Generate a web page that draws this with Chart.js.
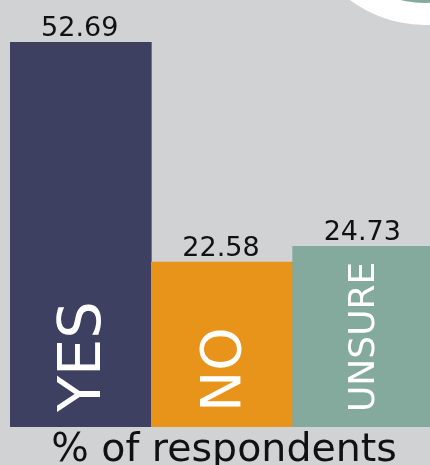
<!DOCTYPE html>
<html>
<head>
<meta charset="utf-8">
<script src="https://cdn.jsdelivr.net/npm/chart.js@4"></script>
<style>
  html, body { margin: 0; padding: 0; background: #d1d2d4; overflow: hidden; }
  #wrap { width: 434px; height: 465px; }
</style>
</head>
<body>
<div id="wrap"><canvas id="surveyChart"></canvas></div>
<script>
// survey answers
const categories = ['YES', 'NO', 'UNSURE'];
const percentages = [52.69, 22.58, 24.73];
const barColors = ['#3e4062', '#e8941a', '#83aa9d'];
const labelSizes = [59, 55, 36];
const axisTitle = '% of respondents';

const FONT = '"DejaVu Sans", sans-serif';

// draws values on top, rotated names inside bars, axis title and the corner badge
const barText = {
  id: 'barText',
  afterDatasetsDraw(chart) {
    const ctx = chart.ctx;
    const meta = chart.getDatasetMeta(0);
    ctx.save();
    meta.data.forEach((bar, i) => {
      // value above bar
      ctx.fillStyle = '#111111';
      ctx.font = '27px ' + FONT;
      ctx.textAlign = 'center';
      ctx.textBaseline = 'alphabetic';
      ctx.fillText(percentages[i].toFixed(2), bar.x - 1, bar.y - 6);

      // category name, vertical
      const size = labelSizes[i];
      ctx.save();
      ctx.translate(bar.x - 2, bar.base - 15);
      ctx.rotate(-Math.PI / 2);
      ctx.fillStyle = '#ffffff';
      ctx.font = size + 'px ' + FONT;
      ctx.textAlign = 'left';
      ctx.fillText(categories[i], 0, size * 0.365);
      ctx.restore();
    });

    ctx.fillStyle = '#111111';
    ctx.font = '39.5px ' + FONT;
    ctx.textAlign = 'center';
    ctx.fillText(axisTitle, 224, 461);

    // corner badge
    ctx.fillStyle = '#ffffff';
    ctx.beginPath();
    ctx.arc(425, -100, 125, 0, Math.PI * 2);
    ctx.fill();
    ctx.fillStyle = '#83aa9d';
    ctx.beginPath();
    ctx.arc(425, -100, 103, 0, Math.PI * 2);
    ctx.fill();
    ctx.restore();
  }
};

const ctx = document.getElementById('surveyChart').getContext('2d');
const surveyChart = new Chart(ctx, {
  type: 'bar',
  data: {
    labels: categories,
    datasets: [{
      data: percentages,
      backgroundColor: barColors,
      borderWidth: 0,
      barPercentage: 1,
      categoryPercentage: 1
    }]
  },
  options: {
    responsive: true,
    maintainAspectRatio: false,
    animation: false,
    layout: { padding: { left: 10, right: 0, top: 42, bottom: 38 } },
    plugins: { legend: { display: false }, tooltip: { enabled: false } },
    scales: {
      x: { display: false },
      y: { display: false, min: 0, max: 52.69 }
    }
  },
  plugins: [barText]
});
</script>
</body>
</html>
